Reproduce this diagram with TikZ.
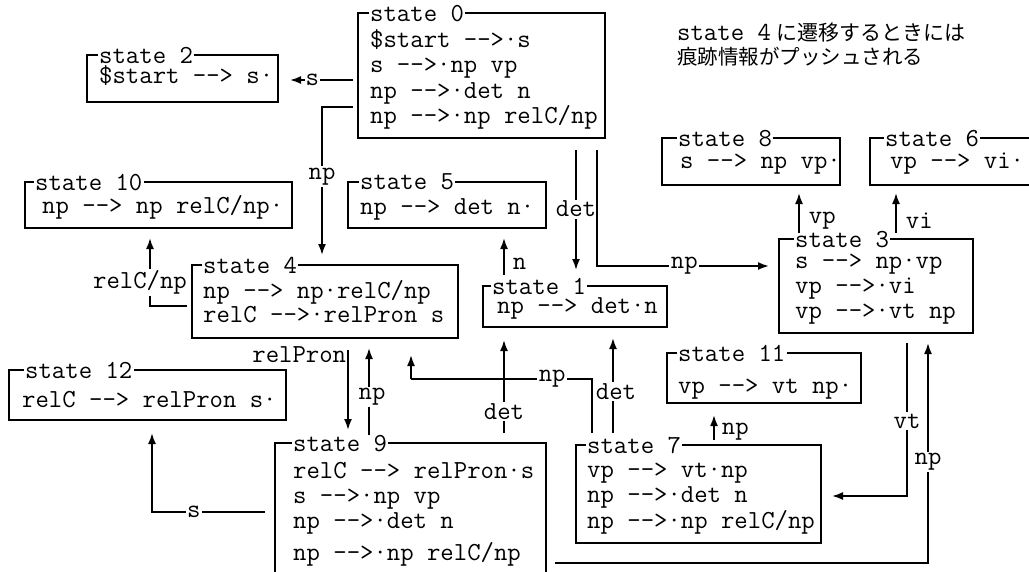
\documentclass[tikz,border=0pt]{standalone}
\usepackage{fontspec}
\newfontfamily\jpfont{Noto Sans CJK JP}
\usetikzlibrary{arrows.meta}
\newcommand\arw{-\kern0pt-\kern0pt>}
\newcommand\tfont{\ttfamily\fontsize{26}{26}\selectfont}
\tikzset{
  box/.style={draw, line width=1.8pt, anchor=north west, inner sep=0pt, outer sep=0pt},
  ttl/.style={anchor=base west, fill=white, inner xsep=1.5pt, inner ysep=0pt, font=\tfont},
  bod/.style={anchor=base west, inner sep=0pt, font=\tfont},
  lab/.style={fill=white, inner sep=1.5pt, font=\tfont},
  slab/.style={inner sep=1pt, font=\tfont},
  con/.style={line width=1.8pt},
  arr/.style={line width=1.8pt, -{Latex[length=11pt,width=8pt]}},
}
\begin{document}
\begin{tikzpicture}[x=1pt,y=-1pt]
\useasboundingbox (0,0) rectangle (1029,571);
\clip (0,0) rectangle (1029,571);

% ---------- boxes ----------
\node[box, minimum width=247, minimum height=125] (s0) at (358,13) {};
\node[box, minimum width=191, minimum height=47] (s2) at (87,55) {};
\node[box, minimum width=267, minimum height=46] (s10) at (25,182) {};
\node[box, minimum width=198, minimum height=46] (s5) at (348,182) {};
\node[box, minimum width=266, minimum height=73] (s4) at (192,265) {};
\node[box, minimum width=184, minimum height=41] (s1) at (483,286) {};
\node[box, minimum width=194, minimum height=94] (s3) at (779,239) {};
\node[box, minimum width=178, minimum height=47] (s8) at (662,138) {};
\node[box, minimum width=220, minimum height=47] (s6) at (870,138) {};
\node[box, minimum width=194, minimum height=50] (s11) at (667,353) {};
\node[box, minimum width=245, minimum height=98] (s7) at (576,445) {};
\node[box, minimum width=271, minimum height=180] (s9) at (275,443) {};
\node[box, minimum width=277, minimum height=50] (s12) at (9,370) {};

% ---------- titles ----------
\node[ttl] (s0t) at (368.5,21) {state 0};
\node[ttl] (s2t) at (97.5,63) {state 2};
\node[ttl] (s10t) at (33.5,190) {state 10};
\node[ttl] (s5t) at (358.5,189) {state 5};
\node[ttl] (s4t) at (201.5,273) {state 4};
\node[ttl] (s1t) at (490.5,294) {state 1};
\node[ttl] (s3t) at (793.5,247) {state 3};
\node[ttl] (s8t) at (676.5,146) {state 8};
\node[ttl] (s6t) at (883.5,146) {state 6};
\node[ttl] (s11t) at (676.5,361) {state 11};
\node[ttl] (s7t) at (585.5,453) {state 7};
\node[ttl] (s9t) at (291.5,451) {state 9};
\node[ttl] (s12t) at (23.5,378) {state 12};

% ---------- contents ----------
\node[bod] (s0a) at (370,47.5) {\$start \arw{}·s};
\node[bod] (s0b) at (370,72.5) {s \arw{}·np vp};
\node[bod] (s0c) at (370,98.5) {np \arw{}·det n};
\node[bod] (s0d) at (370,123.5) {np \arw{}·np relC/np};
\node[bod] (s2a) at (99,83.5) {\$start \arw{} s·};
\node[bod] (s10a) at (42,213.5) {np \arw{} np relC/np·};
\node[bod] (s5a) at (360,214.5) {np \arw{} det n·};
\node[bod] (s4a) at (203,298.5) {np \arw{} np·relC/np};
\node[bod] (s4b) at (203,322.5) {relC \arw{}·relPron s};
\node[bod] (s1a) at (497,313.5) {np \arw{} det·n};
\node[bod] (s3a) at (795,268.5) {s \arw{} np·vp};
\node[bod] (s3b) at (795,293.5) {vp \arw{}·vi};
\node[bod] (s3c) at (795,318.5) {vp \arw{}·vt np};
\node[bod] (s8a) at (680,168.5) {s \arw{} np vp·};
\node[bod] (s6a) at (890,168.5) {vp \arw{} vi·};
\node[bod] (s11a) at (678,393.5) {vp \arw{} vt np·};
\node[bod] (s7a) at (587,477.5) {vp \arw{} vt·np};
\node[bod] (s7b) at (587,502.5) {np \arw{}·det n};
\node[bod] (s7c) at (587,528.5) {np \arw{}·np relC/np};
\node[bod] (s9a) at (293,478.5) {relC \arw{} relPron·s};
\node[bod] (s9b) at (293,503.5) {s \arw{}·np vp};
\node[bod] (s9c) at (293,528.5) {np \arw{}·det n};
\node[bod] (s9d) at (293,560.5) {np \arw{}·np relC/np};
\node[bod] (s12a) at (22,407.5) {relC \arw{} relPron s·};

% ---------- note ----------
\node[bod] (note1) at (677,40) {state 4\hspace{6pt}{\jpfont\fontsize{21}{21}\selectfont に遷移するときには}};
\node[bod] (note2) at (677,64) {\jpfont\fontsize{20.5}{20.5}\selectfont 痕跡情報がプッシュされる};

% ---------- connectors ----------
% state 0 -> state 2
\draw[arr, shorten <=5, shorten >=12] (s0.west |- 0,80) -- node[lab, pos=0.57, inner xsep=1pt]{s} (s2.east |- 0,80);
% state 0 -> state 4
\draw[arr, shorten <=5, shorten >=10] (s0.west |- 0,107) -| node[lab, pos=0.72]{np} (s4.north -| 322,0);
% state 4 -> state 10
\draw[arr, shorten <=5, shorten >=10] (s4.west |- 0,306) -| node[lab, pos=0.65, xshift=-10]{relC/np} (s10.south -| 150,0);
% state 0 -> state 1
\draw[arr, shorten <=12, shorten >=16] (s0.south -| 576,0) -- node[lab, pos=0.48]{det} (s1.north -| 576,0);
% state 0 -> state 3
\draw[arr, shorten <=12, shorten >=10] (s0.south -| 597,0) |- node[lab, pos=0.74]{np} (s3.west |- 0,266);
% state 1 -> state 5
\draw[arr, shorten <=11, shorten >=10] (s1.north -| 504,0) -- node[slab, anchor=west, pos=0.38, xshift=7]{n} (s5.south -| 504,0);
% state 3 -> state 8
\draw[arr, shorten <=6, shorten >=8] (s3.north -| 799,0) -- node[slab, anchor=west, pos=0.33, xshift=8]{vp} (s8.south -| 799,0);
% state 3 -> state 6
\draw[arr, shorten <=6, shorten >=8] (s3.north -| 896,0) -- node[slab, anchor=west, pos=0.33, xshift=8]{vi} (s6.south -| 896,0);
% state 3 -> state 7
\draw[arr, shorten <=10, shorten >=11] (s3.south -| 907,0) |- node[lab, pos=0.27]{vt} (s7.east |- 0,496);
% state 9 -> state 3
\draw[arr, shorten <=9, shorten >=10] (s9.east |- 0,563) -| node[lab, pos=0.72]{np} (s3.south -| 928,0);
% state 7 -> state 11
\draw[arr, shorten <=5, shorten >=12] (s7.north -| 714,0) -- node[slab, anchor=west, pos=0.31, xshift=6]{np} (s11.south -| 714,0);
% state 7 -> state 4
\coordinate (b74) at (411,379);
\draw[con, shorten <=12] (s7.north -| 592,0) |- node[lab, pos=0.61]{np} (b74);
\draw[arr, shorten >=17] (b74) -- (s4.south -| 411,0);
% state 9 -> state 1
\draw[arr, shorten <=10, shorten >=13] (s9.north -| 504,0) -- node[lab, pos=0.27]{det} (s1.south -| 504,0);
% state 7 -> state 1
\draw[arr, shorten <=12, shorten >=11] (s7.north -| 613,0) -- node[lab, pos=0.45, xshift=3]{det} (s1.south -| 613,0);
% state 4 -> state 9
\draw[arr, shorten <=12, shorten >=13] (s4.south -| 348,0) -- node[slab, anchor=east, pos=0.16]{relPron} (s9.north -| 348,0);
% state 9 -> state 4
\draw[arr, shorten <=8, shorten >=10] (s9.north -| 369,0) -- node[lab, pos=0.44, xshift=3]{np} (s4.south -| 369,0);
% state 9 -> state 12
\draw[arr, shorten <=10, shorten >=13] (s9.west |- 0,512) -| node[lab, pos=0.33]{s} (s12.south -| 152,0);
\end{tikzpicture}
\end{document}
